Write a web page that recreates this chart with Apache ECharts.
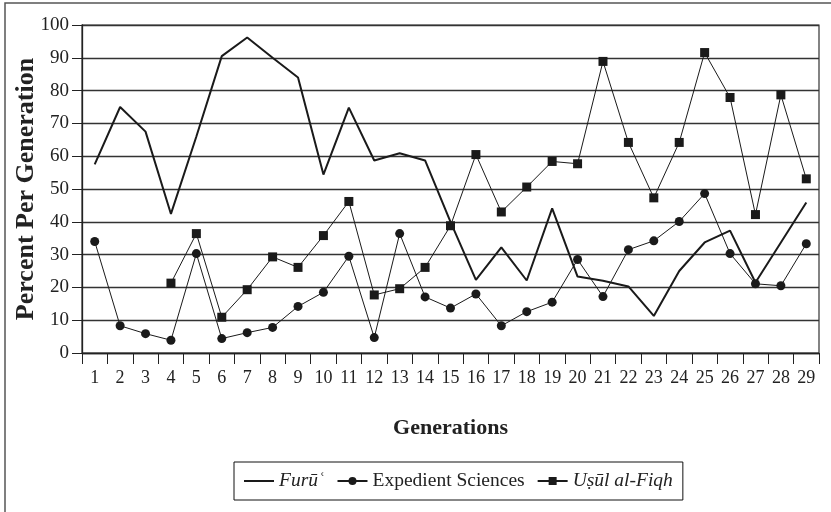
<!DOCTYPE html>
<html>
<head>
<meta charset="utf-8">
<script src="https://cdn.jsdelivr.net/npm/echarts@6/dist/echarts.min.js"></script>
<style>
html,body{margin:0;padding:0;background:#fff;}
#chart{width:831px;height:512px;}
</style>
</head>
<body>
<div id="chart"></div>
<script>
const generations = ['1','2','3','4','5','6','7','8','9','10','11','12','13','14','15','16','17','18','19','20','21','22','23','24','25','26','27','28','29'];
const furu = [57.5, 75, 67.5, 42.4, 66, 90.5, 96.2, 90, 84, 54.4, 74.8, 58.7, 60.9, 58.7, 40, 22.3, 32.2, 22.1, 44.1, 23.3, 22, 20.3, 11.3, 25, 33.7, 37.3, 21.5, 33.7, 45.9];
const expedient = [34, 8.3, 5.9, 3.9, 30.3, 4.4, 6.2, 7.8, 14.2, 18.5, 29.5, 4.7, 36.4, 17.1, 13.7, 18, 8.3, 12.6, 15.5, 28.5, 17.2, 31.5, 34.2, 40.1, 48.6, 30.3, 21.1, 20.5, 33.3];
const usul = [null, null, null, 21.3, 36.4, 10.9, 19.3, 29.3, 26.1, 35.8, 46.2, 17.7, 19.6, 26.1, 38.8, 60.5, 43, 50.6, 58.4, 57.7, 88.9, 64.2, 47.3, 64.2, 91.6, 77.9, 42.2, 78.7, 53.1];
const yTicks = {min: 0, max: 100, interval: 10};
const names = ['Furūʿ', 'Expedient Sciences', 'Uṣūl al-Fiqh'];

const serif = '"Liberation Serif", "DejaVu Serif", serif';
const chart = echarts.init(document.getElementById('chart'), null, {renderer: 'canvas'});
chart.setOption({
  animation: false,
  backgroundColor: '#fff',
  graphic: [{
    type: 'rect', silent: true,
    shape: {x: 5, y: 3, width: 840, height: 530},
    style: {fill: 'none', stroke: '#555', lineWidth: 1.5}
  }],
  grid: {left: 82, right: 12, top: 25, bottom: 159, show: true, borderColor: '#333', borderWidth: 1.2,
    backgroundColor: 'transparent', containLabel: false, outerBoundsMode: 'none'},
  legend: {
    data: [
      {name: names[0], icon: 'path://M0,0H150V10H0Z'},
      {name: names[1]},
      {name: names[2]}
    ],
    left: 234, top: 462,
    orient: 'horizontal',
    borderColor: '#111', borderWidth: 1, borderRadius: 0,
    padding: [9, 10, 9, 10],
    itemGap: 12, itemWidth: 30, itemHeight: 10,
    formatter: function (n) { return n === 'Expedient Sciences' ? n : '{i|' + n + '}'; },
    textStyle: {fontFamily: serif, fontSize: 19.5, color: '#222',
      rich: {i: {fontFamily: serif, fontSize: 19.5, fontStyle: 'italic', color: '#222'}}}
  },
  xAxis: {
    type: 'category',
    data: generations,
    boundaryGap: true,
    name: 'Generations',
    nameLocation: 'middle',
    nameGap: 64,
    nameMoveOverlap: false,
    nameTextStyle: {fontFamily: serif, fontSize: 22, fontWeight: 'bold', color: '#222'},
    axisLine: {show: true, lineStyle: {color: '#222', width: 1.3}},
    axisTick: {show: true, length: 11, interval: 0, alignWithLabel: false, lineStyle: {color: '#222', width: 1}},
    axisLabel: {interval: 0, margin: 16, fontFamily: serif, fontSize: 18, color: '#222'},
    splitLine: {show: false}
  },
  yAxis: {
    type: 'value',
    min: yTicks.min, max: yTicks.max, interval: yTicks.interval,
    name: 'Percent Per Generation',
    nameLocation: 'middle',
    nameRotate: 90,
    nameGap: 43,
    nameMoveOverlap: false,
    nameTextStyle: {fontFamily: serif, fontSize: 26, fontWeight: 'bold', color: '#222'},
    axisLine: {show: true, lineStyle: {color: '#222', width: 1.3}},
    axisTick: {show: true, length: 10, lineStyle: {color: '#222', width: 1}},
    axisLabel: {margin: 13, fontFamily: serif, fontSize: 19, color: '#222'},
    splitLine: {show: true, lineStyle: {color: '#333', width: 1.3}}
  },
  series: [
    {
      name: names[0], type: 'line', data: furu,
      symbol: 'none', lineStyle: {color: '#1a1a1a', width: 2}, itemStyle: {color: '#1a1a1a'}
    },
    {
      name: names[1], type: 'line', data: expedient,
      symbol: 'circle', symbolSize: 9, showSymbol: true,
      lineStyle: {color: '#1a1a1a', width: 1}, itemStyle: {color: '#1a1a1a'}
    },
    {
      name: names[2], type: 'line', data: usul,
      symbol: 'rect', symbolSize: 9, showSymbol: true,
      lineStyle: {color: '#1a1a1a', width: 1}, itemStyle: {color: '#1a1a1a'}
    }
  ]
});
</script>
</body>
</html>
